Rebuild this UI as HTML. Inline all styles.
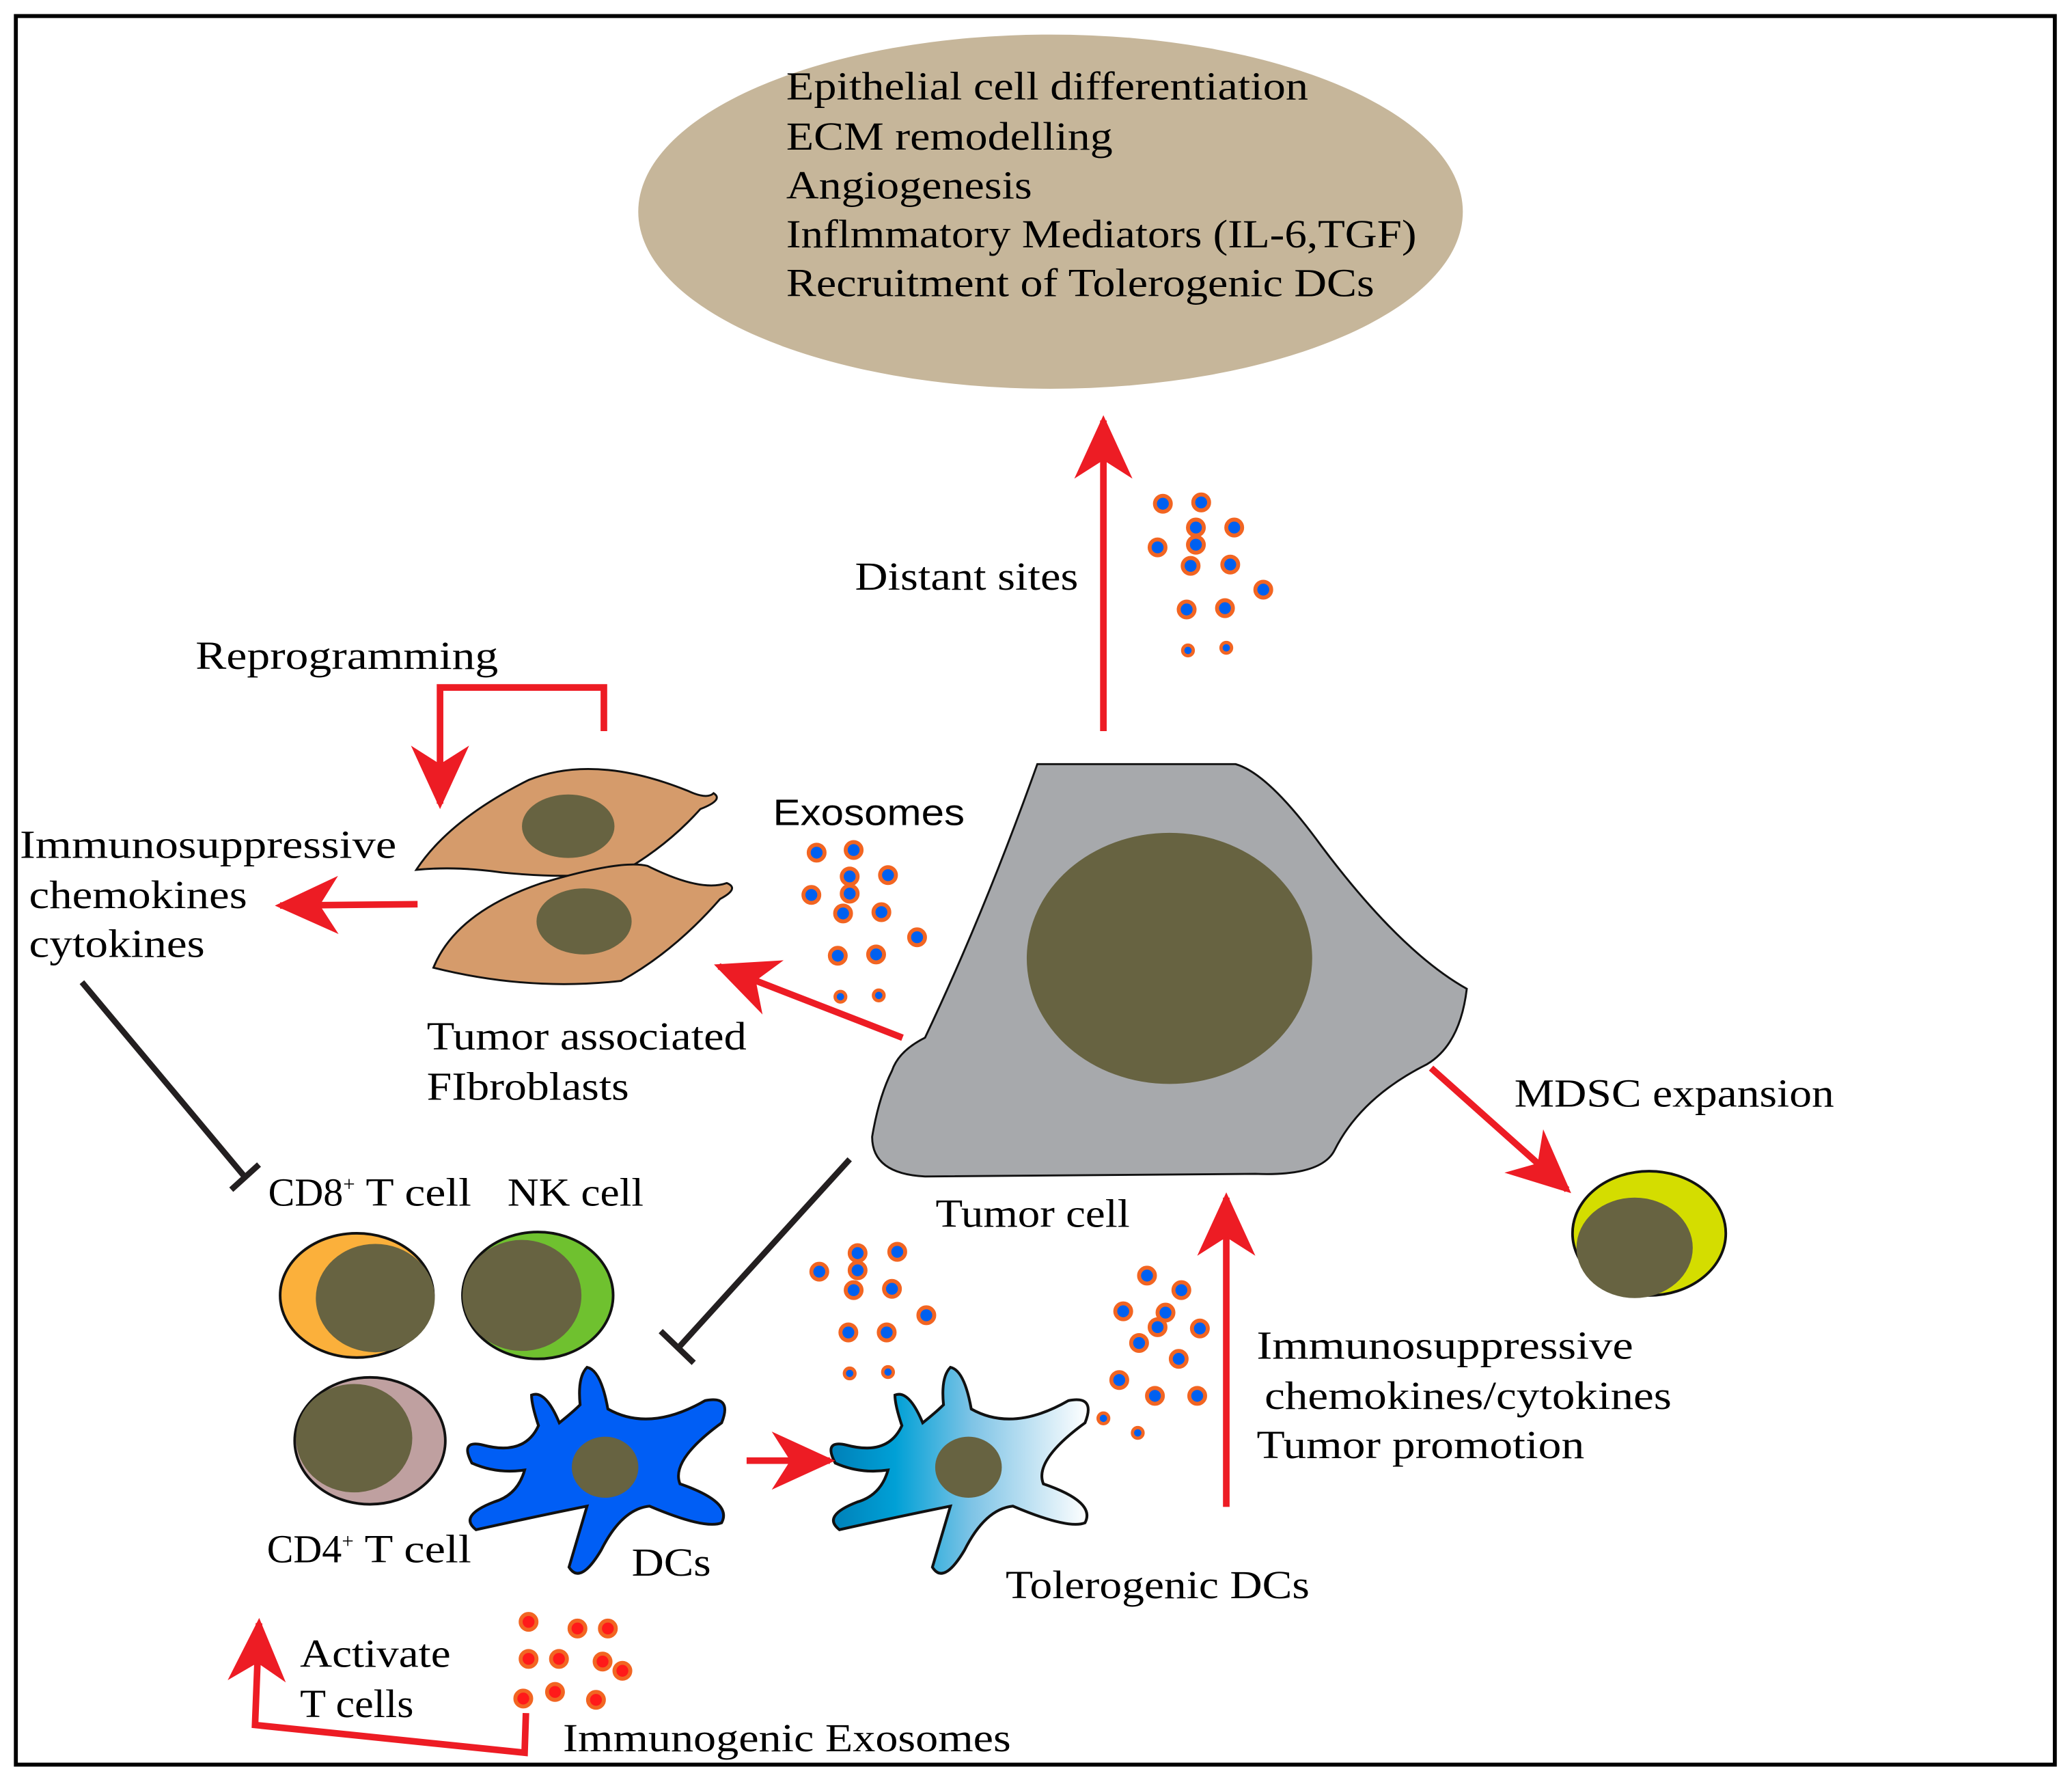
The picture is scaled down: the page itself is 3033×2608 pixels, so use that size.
<!DOCTYPE html>
<html><head><meta charset="utf-8"><style>html,body{margin:0;padding:0;background:#fff}svg{display:block}text{font-family:"Liberation Serif",serif;font-size:30px;fill:#000}</style></head>
<body>
<svg width="3033" height="2608" viewBox="0 0 1568 1348" xmlns="http://www.w3.org/2000/svg">
<defs>
<marker id="ah" markerUnits="userSpaceOnUse" markerWidth="60" markerHeight="60" refX="0" refY="0" viewBox="-50 -30 60 60" orient="auto">
<path d="M4,0 L-44,-22 L-30,0 L-44,22 Z" fill="#ed1c24"/>
</marker>
<linearGradient id="tg" x1="0" x2="1" y1="0" y2="0"><stop offset="0" stop-color="#0080b8"/><stop offset="0.25" stop-color="#00a0d6"/><stop offset="0.55" stop-color="#7fc4e6"/><stop offset="1" stop-color="#ffffff"/></linearGradient>
<g id="dc"><path d="M-15,-72 Q-5,-70 0,-42 Q30,-25 70,-48 Q90,-52 82,-32 Q45,-5 52,12 Q90,25 82,40 Q70,45 30,28 Q10,30 -5,60 Q-20,85 -28,72 Q-20,45 -15,28 Q-50,35 -95,45 Q-108,35 -82,25 Q-65,20 -60,2 Q-80,5 -98,-3 Q-107,-20 -90,-16 Q-60,-8 -50,-30 Q-55,-45 -55,-52 Q-45,-56 -35,-32 Q-25,-40 -20,-45 Q-22,-65 -15,-72 Z" stroke="#111" stroke-width="2"/></g>
<g id="ex"><circle r="6" fill="#0060f0" stroke="#f26522" stroke-width="3"/></g>
<g id="exs"><circle r="4" fill="#0060f0" stroke="#f26522" stroke-width="2.5"/></g>
<g id="im"><circle r="6" fill="#ff1a1a" stroke="#f26522" stroke-width="3"/></g>
</defs>
<rect x="12" y="12" width="1543" height="1323" fill="#fff" stroke="#000" stroke-width="3"/>
<ellipse cx="795" cy="160" rx="312" ry="134" fill="#c6b69a"/>
<text x="595" y="75" textLength="395" lengthAdjust="spacingAndGlyphs">Epithelial cell differentiation</text>
<text x="595" y="113" textLength="247" lengthAdjust="spacingAndGlyphs">ECM remodelling</text>
<text x="595" y="150" textLength="186" lengthAdjust="spacingAndGlyphs">Angiogenesis</text>
<text x="595" y="187" textLength="477" lengthAdjust="spacingAndGlyphs">Inflmmatory Mediators (IL-6,TGF)</text>
<text x="595" y="224" textLength="445" lengthAdjust="spacingAndGlyphs">Recruitment of Tolerogenic DCs</text>
<path d="M785,578 L935,578 Q960,585 1000,640 Q1060,720 1110,748 Q1105,790 1080,805 Q1030,830 1010,870 Q1000,890 950,888 L700,890 Q660,888 660,860 Q665,830 675,810 Q680,795 700,785 Q745,690 785,578 Z" fill="#a7a9ac" stroke="#111" stroke-width="1.5"/>
<ellipse cx="885" cy="725" rx="108" ry="95" fill="#676341"/>
<path d="M315,658 Q340,620 400,590 Q450,570 520,598 Q535,605 540,600 Q548,605 530,612 Q505,640 470,660 Q430,665 380,660 Q345,655 315,658 Z" fill="#d59b6b" stroke="#111" stroke-width="1.5"/>
<ellipse cx="430" cy="625" rx="35" ry="24" fill="#676341"/>
<path d="M328,732 Q345,690 410,668 Q470,650 490,655 Q530,675 550,668 Q560,672 545,680 Q510,720 470,742 Q400,750 328,732 Z" fill="#d59b6b" stroke="#111" stroke-width="1.5"/>
<ellipse cx="442" cy="697" rx="36" ry="25" fill="#676341"/>
<ellipse cx="270" cy="980" rx="58" ry="47" fill="#fbb03b" stroke="#111" stroke-width="2"/>
<ellipse cx="284" cy="982" rx="45" ry="41" fill="#676341"/>
<ellipse cx="407" cy="980" rx="57" ry="48" fill="#6fc12f" stroke="#111" stroke-width="2"/>
<ellipse cx="395" cy="980" rx="45" ry="42" fill="#676341"/>
<ellipse cx="280" cy="1090" rx="57" ry="48" fill="#bfa0a0" stroke="#111" stroke-width="2"/>
<ellipse cx="268" cy="1088" rx="44" ry="41" fill="#676341"/>
<ellipse cx="1248" cy="933" rx="58" ry="47" fill="#d4dd00" stroke="#111" stroke-width="2"/>
<ellipse cx="1237" cy="944" rx="44" ry="38" fill="#676341"/>
<g transform="translate(460,1110) scale(1.05)" fill="#005ef5"><use href="#dc"/><ellipse cx="-2" cy="0" rx="24" ry="22" fill="#676341"/></g>
<g transform="translate(735,1110) scale(1.05)" fill="url(#tg)"><use href="#dc"/><ellipse cx="-2" cy="0" rx="24" ry="22" fill="#676341"/></g>
<g>
<use href="#ex" x="880" y="381"/><use href="#ex" x="909" y="380"/><use href="#ex" x="905" y="399"/><use href="#ex" x="934" y="399"/><use href="#ex" x="876" y="414"/><use href="#ex" x="905" y="412"/><use href="#ex" x="901" y="428"/><use href="#ex" x="931" y="427"/><use href="#ex" x="956" y="446"/><use href="#ex" x="898" y="461"/><use href="#ex" x="927" y="460"/><use href="#exs" x="899" y="492"/><use href="#exs" x="928" y="490"/>
<use href="#ex" x="618" y="645"/><use href="#ex" x="646" y="643"/><use href="#ex" x="643" y="663"/><use href="#ex" x="672" y="662"/><use href="#ex" x="614" y="677"/><use href="#ex" x="643" y="676"/><use href="#ex" x="638" y="691"/><use href="#ex" x="667" y="690"/><use href="#ex" x="694" y="709"/><use href="#ex" x="634" y="723"/><use href="#ex" x="663" y="722"/><use href="#exs" x="636" y="754"/><use href="#exs" x="665" y="753"/>
<use href="#ex" x="649" y="948"/><use href="#ex" x="679" y="947"/><use href="#ex" x="649" y="961"/><use href="#ex" x="620" y="962"/><use href="#ex" x="646" y="976"/><use href="#ex" x="675" y="975"/><use href="#ex" x="701" y="995"/><use href="#ex" x="642" y="1008"/><use href="#ex" x="671" y="1008"/><use href="#exs" x="643" y="1039"/><use href="#exs" x="672" y="1038"/>
<use href="#ex" x="868" y="965"/><use href="#ex" x="894" y="976"/><use href="#ex" x="850" y="992"/><use href="#ex" x="882" y="993"/><use href="#ex" x="876" y="1004"/><use href="#ex" x="908" y="1005"/><use href="#ex" x="862" y="1016"/><use href="#ex" x="892" y="1028"/><use href="#ex" x="847" y="1044"/><use href="#ex" x="874" y="1056"/><use href="#ex" x="906" y="1056"/><use href="#exs" x="835" y="1073"/><use href="#exs" x="861" y="1084"/>
<use href="#im" x="400" y="1227"/><use href="#im" x="437" y="1232"/><use href="#im" x="460" y="1232"/><use href="#im" x="400" y="1255"/><use href="#im" x="423" y="1255"/><use href="#im" x="456" y="1257"/><use href="#im" x="471" y="1264"/><use href="#im" x="396" y="1285"/><use href="#im" x="420" y="1280"/><use href="#im" x="451" y="1286"/>
</g>
<g stroke="#ed1c24" stroke-width="5" fill="none">
<line x1="835" y1="553" x2="835" y2="318" marker-end="url(#ah)"/>
<line x1="683" y1="785" x2="544" y2="731" marker-end="url(#ah)"/>
<line x1="316" y1="684" x2="212" y2="685" marker-end="url(#ah)"/>
<line x1="1083" y1="808" x2="1186" y2="900" marker-end="url(#ah)"/>
<line x1="928" y1="1140" x2="928" y2="906" marker-end="url(#ah)"/>
<line x1="565" y1="1105" x2="628" y2="1105" marker-end="url(#ah)"/>
<polyline points="457,553 457,520 333,520 333,608" marker-end="url(#ah)"/>
<polyline points="398,1296 397,1326 193,1305 196,1228" marker-end="url(#ah)"/>
</g>
<g stroke="#231f20" stroke-width="4.5" fill="none">
<line x1="62" y1="743" x2="185" y2="890"/><line x1="175" y1="900" x2="196" y2="881"/>
<line x1="643" y1="877" x2="513" y2="1020"/><line x1="500" y1="1007" x2="525" y2="1031"/>
</g>
<text x="647" y="446" textLength="169" lengthAdjust="spacingAndGlyphs">Distant sites</text>
<text x="148" y="506" textLength="229" lengthAdjust="spacingAndGlyphs">Reprogramming</text>
<text x="585" y="624" textLength="145" lengthAdjust="spacingAndGlyphs" style="font-family:'Liberation Sans',sans-serif;font-size:28px">Exosomes</text>
<text x="15" y="649" textLength="285" lengthAdjust="spacingAndGlyphs">Immunosuppressive</text>
<text x="22" y="687" textLength="165" lengthAdjust="spacingAndGlyphs">chemokines</text>
<text x="22" y="724" textLength="133" lengthAdjust="spacingAndGlyphs">cytokines</text>
<text x="323" y="794" textLength="242" lengthAdjust="spacingAndGlyphs">Tumor associated</text>
<text x="323" y="832" textLength="153" lengthAdjust="spacingAndGlyphs">FIbroblasts</text>
<text x="1146" y="837" textLength="242" lengthAdjust="spacingAndGlyphs">MDSC expansion</text>
<text x="708" y="928" textLength="147" lengthAdjust="spacingAndGlyphs">Tumor cell</text>
<text x="203" y="912">CD8<tspan font-size="16" dy="-11">+</tspan><tspan dy="11" textLength="88" lengthAdjust="spacingAndGlyphs"> T cell</tspan></text>
<text x="384" y="912" textLength="103" lengthAdjust="spacingAndGlyphs">NK cell</text>
<text x="202" y="1182">CD4<tspan font-size="16" dy="-11">+</tspan><tspan dy="11" textLength="89" lengthAdjust="spacingAndGlyphs"> T cell</tspan></text>
<text x="478" y="1192" textLength="60" lengthAdjust="spacingAndGlyphs">DCs</text>
<text x="761" y="1209" textLength="230" lengthAdjust="spacingAndGlyphs">Tolerogenic DCs</text>
<text x="951" y="1028" textLength="285" lengthAdjust="spacingAndGlyphs">Immunosuppressive</text>
<text x="957" y="1066" textLength="308" lengthAdjust="spacingAndGlyphs">chemokines/cytokines</text>
<text x="951" y="1103" textLength="248" lengthAdjust="spacingAndGlyphs">Tumor promotion</text>
<text x="227" y="1261" textLength="114" lengthAdjust="spacingAndGlyphs">Activate</text>
<text x="227" y="1299" textLength="86" lengthAdjust="spacingAndGlyphs">T cells</text>
<text x="426" y="1325" textLength="339" lengthAdjust="spacingAndGlyphs">Immunogenic Exosomes</text>
</svg>
</body></html>
